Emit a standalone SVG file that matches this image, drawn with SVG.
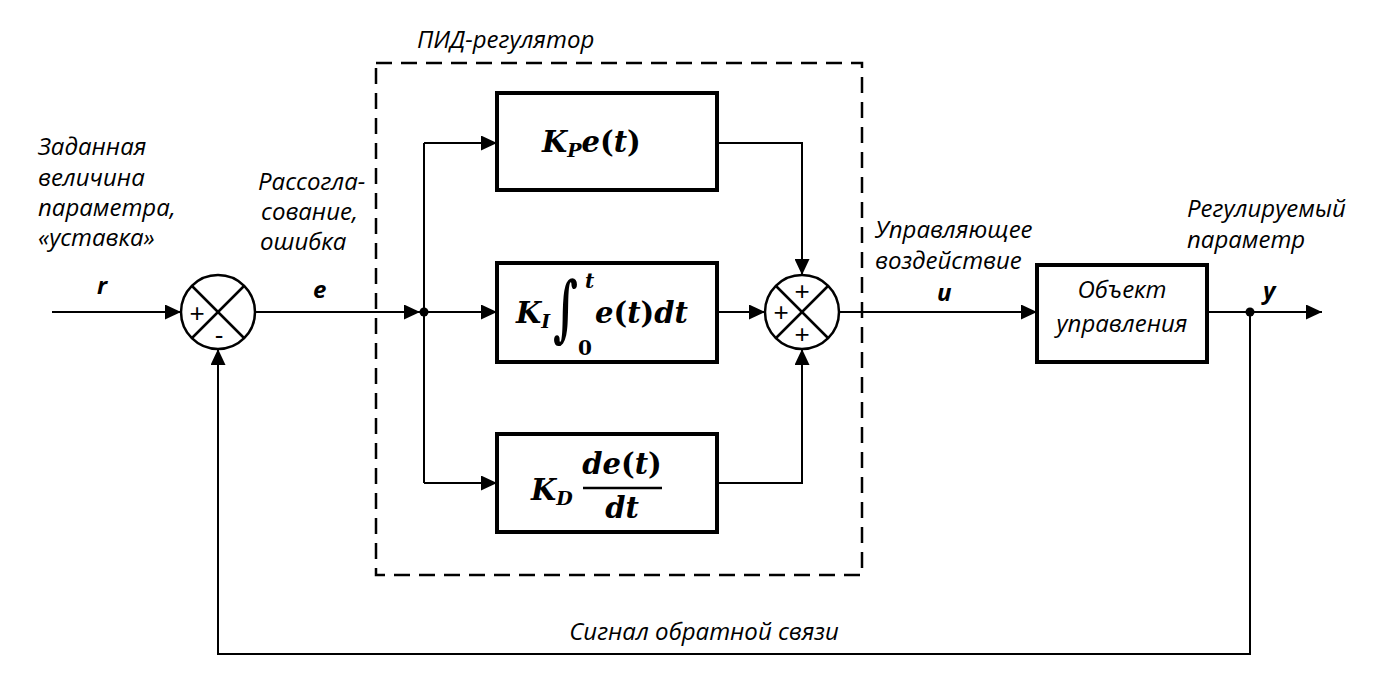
<svg xmlns="http://www.w3.org/2000/svg" width="1383" height="691" viewBox="0 0 1383 691">
<style>
.lbl{font-family:"Open Sans","Liberation Sans",sans-serif;font-style:italic;font-size:24px;fill:#000}
.sig{font-family:"Open Sans","Liberation Sans",sans-serif;font-style:italic;font-weight:bold;font-size:24px;fill:#000}
.m{font-family:"DejaVu Serif","Liberation Serif",serif;font-weight:bold;font-size:29px;fill:#000}
.mi{font-style:italic}
.sub{font-size:19px;font-style:italic}
.blk{fill:#fff;stroke:#000;stroke-width:4}
.sum{fill:#fff;stroke:#000;stroke-width:2.5}
.x{stroke:#000;stroke-width:2.5}
.pm{font-family:"Liberation Sans",sans-serif;font-size:26px;fill:#000;text-anchor:middle}
.ln{fill:none;stroke:#000;stroke-width:2}
</style>
<defs>
<marker id="ah" markerUnits="userSpaceOnUse" markerWidth="17" markerHeight="15" refX="16" refY="7.5" orient="auto">
<path d="M0,0 L16,7.5 L0,15 z" fill="#000"/>
</marker>
</defs>
<rect width="1383" height="691" fill="#fff"/>

<g id="pid-frame">
<rect x="376" y="63" width="486" height="512" fill="none" stroke="#000" stroke-width="2.5" stroke-dasharray="16,9"/>
<text class="lbl" x="417" y="48">ПИД-регулятор</text>
</g>

<g id="connectors">
<path class="ln" d="M52,312 H181" marker-end="url(#ah)"/>
<path class="ln" d="M255,312 H420" marker-end="url(#ah)"/>
<path class="ln" d="M424,143 V483"/>
<path class="ln" d="M424,143 H497" marker-end="url(#ah)"/>
<path class="ln" d="M424,312 H497" marker-end="url(#ah)"/>
<path class="ln" d="M424,483 H497" marker-end="url(#ah)"/>
<path class="ln" d="M717,143 H802 V275" marker-end="url(#ah)"/>
<path class="ln" d="M717,312 H765" marker-end="url(#ah)"/>
<path class="ln" d="M717,483 H802 V349" marker-end="url(#ah)"/>
<path class="ln" d="M839,312 H1037" marker-end="url(#ah)"/>
<path class="ln" d="M1207,312 H1322" marker-end="url(#ah)"/>
<path class="ln" d="M1250,312 V654 H218 V349" marker-end="url(#ah)"/>
<circle cx="424" cy="312" r="4.5" fill="#000"/>
<circle cx="1250" cy="312" r="4.5" fill="#000"/>
</g>

<g id="sum1">
<circle class="sum" cx="218" cy="312" r="37"/>
<line class="x" x1="192" y1="286" x2="244" y2="338"/>
<line class="x" x1="244" y1="286" x2="192" y2="338"/>
<text class="pm" x="197" y="322">+</text>
<text class="pm" x="219" y="344">-</text>
</g>

<g id="sum2">
<circle class="sum" cx="802" cy="312" r="37"/>
<line class="x" x1="776" y1="286" x2="828" y2="338"/>
<line class="x" x1="828" y1="286" x2="776" y2="338"/>
<text class="pm" x="802" y="300">+</text>
<text class="pm" x="781" y="321">+</text>
<text class="pm" x="802" y="343">+</text>
</g>

<g id="kp">
<rect class="blk" x="497" y="93" width="220" height="97"/>
<text class="m" x="542" y="152"><tspan class="mi">K</tspan><tspan class="sub" dy="5">P</tspan><tspan class="mi" dy="-5">e</tspan>(<tspan class="mi">t</tspan>)</text>
</g>

<g id="ki">
<rect class="blk" x="497" y="263" width="220" height="99"/>
<text class="m" x="516" y="323"><tspan class="mi">K</tspan><tspan class="sub" dy="5">I</tspan></text>
<text class="m" transform="translate(553,333) scale(0.6,1)" style="font-size:72px">∫</text>
<text class="m mi" x="585" y="288" style="font-size:20px">t</text>
<text class="m" x="578" y="355" style="font-size:20px">0</text>
<text class="m" x="595" y="323"><tspan class="mi">e</tspan>(<tspan class="mi">t</tspan>)<tspan class="mi">dt</tspan></text>
</g>

<g id="kd">
<rect class="blk" x="497" y="434" width="220" height="98"/>
<text class="m" x="531" y="500"><tspan class="mi">K</tspan><tspan class="sub" dy="5">D</tspan></text>
<line x1="583" y1="488" x2="662" y2="488" stroke="#000" stroke-width="2.5"/>
<text class="m" x="622" y="474" text-anchor="middle"><tspan class="mi">de</tspan>(<tspan class="mi">t</tspan>)</text>
<text class="m mi" x="622" y="518" text-anchor="middle">dt</text>
</g>

<g id="plant">
<rect class="blk" x="1037" y="265" width="170" height="97"/>
<text class="lbl" x="1122" y="298" text-anchor="middle">Объект</text>
<text class="lbl" x="1122" y="332" text-anchor="middle">управления</text>
</g>

<g id="labels">
<text class="lbl" x="38" y="155">Заданная</text>
<text class="lbl" x="38" y="186">величина</text>
<text class="lbl" x="38" y="216">параметра,</text>
<text class="lbl" x="38" y="246">«уставка»</text>
<text class="sig" x="97" y="294">r</text>
<text class="lbl" x="258" y="190">Рассогла-</text>
<text class="lbl" x="261" y="220">сование,</text>
<text class="lbl" x="260" y="250">ошибка</text>
<text class="sig" x="313" y="298">e</text>
<text class="lbl" x="875" y="238">Управляющее</text>
<text class="lbl" x="875" y="269">воздействие</text>
<text class="sig" x="937" y="301">u</text>
<text class="lbl" x="1187" y="217">Регулируемый</text>
<text class="lbl" x="1187" y="248">параметр</text>
<text class="sig" x="1263" y="299">y</text>
<text class="lbl" x="704" y="640" text-anchor="middle">Сигнал обратной связи</text>
</g>
</svg>
